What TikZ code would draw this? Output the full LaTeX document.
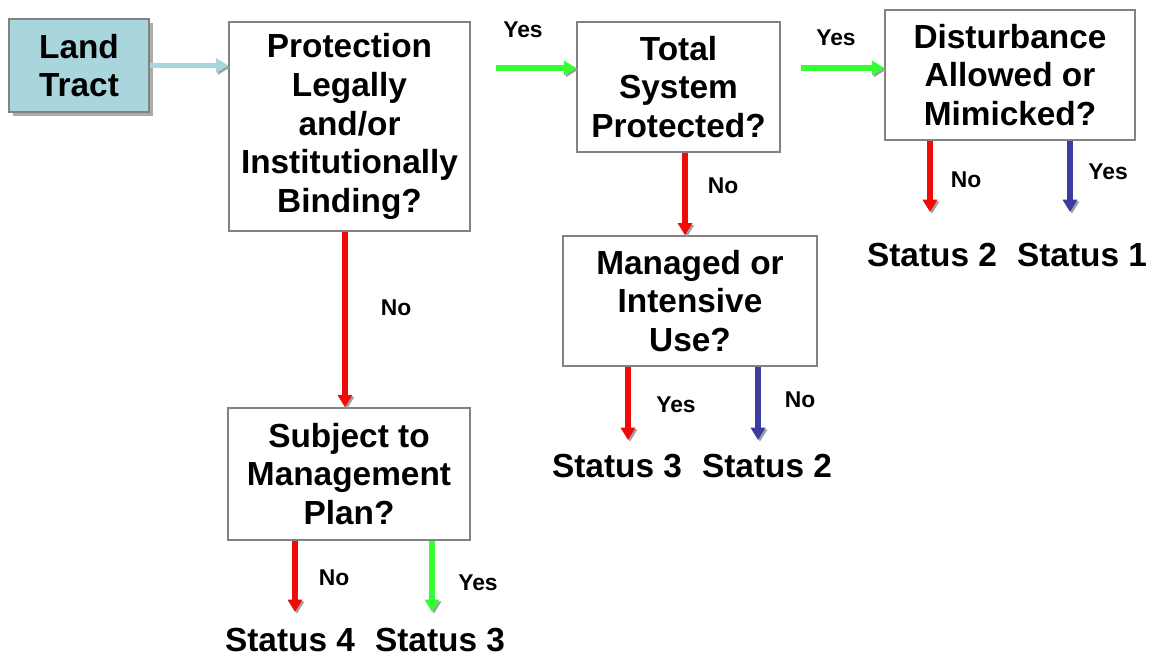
\documentclass[tikz,border=0pt]{standalone}
\usepackage{fontspec}
\setmainfont{Liberation Sans}
\usetikzlibrary{arrows.meta, shadows}

\definecolor{tract}{RGB}{168,214,220}
\definecolor{yesgreen}{RGB}{51,255,51}
\definecolor{nored}{RGB}{240,10,10}
\definecolor{navy}{RGB}{60,60,160}
\definecolor{boxline}{RGB}{130,130,130}

\tikzset{
  qbox/.style={draw=boxline, line width=0.8pt, fill=white, align=center, inner sep=0pt,
    font=\fontsize{19}{22}\selectfont\bfseries},
  lbl/.style={font=\fontsize{13}{15}\selectfont\bfseries},
  stat/.style={font=\fontsize{19}{22}\selectfont\bfseries},
  flow/.style={line width=2.9pt, -{Triangle[length=7pt,width=8pt]},
    preaction={draw=gray!75, transform canvas={shift={(1.1pt,-1pt)}}}},
}

\begin{document}
\begin{tikzpicture}[x=0.02cm, y=-0.02cm]
\useasboundingbox (0,0) rectangle (1149,657);

% boxes
\node[qbox, fill=tract, minimum width=2.8cm, minimum height=1.86cm,
  drop shadow={shadow xshift=2pt, shadow yshift=-2pt, fill=gray!70!black}]
  (land) at (79,65.5) {Land\\Tract};
\node[qbox, minimum width=4.82cm, minimum height=4.18cm] (prot) at (349.5,126.5)
  {Protection\\Legally\\and/or\\Institutionally\\Binding?};
\node[qbox, minimum width=4.06cm, minimum height=2.6cm] (total) at (678.5,87)
  {Total\\System\\Protected?};
\node[qbox, minimum width=5cm, minimum height=2.6cm] (dist) at (1010,75)
  {Disturbance\\Allowed or\\Mimicked?};
\node[qbox, minimum width=5.08cm, minimum height=2.6cm] (manag) at (690,301)
  {Managed or\\Intensive\\Use?};
\node[qbox, minimum width=4.84cm, minimum height=2.64cm] (subj) at (349,474)
  {Subject to\\Management\\Plan?};

% outcomes
\node[stat] (s2a) at (932,255) {Status 2};
\node[stat] (s1)  at (1082,255) {Status 1};
\node[stat] (s3a) at (617,466) {Status 3};
\node[stat] (s2b) at (767,466) {Status 2};
\node[stat] (s4)  at (290,640) {Status 4};
\node[stat] (s3b) at (440,640) {Status 3};

% arrow ends
\coordinate (row) at (0,68);
\coordinate (dno) at (930,212);
\coordinate (dyes) at (1070,212);
\coordinate (mno) at (628,440);
\coordinate (myes) at (758,440);
\coordinate (sno) at (295,612);
\coordinate (syes) at (432,612);

% connectors
\draw[flow, tract] (land.east) -- (land.east -| prot.west);
\draw[flow, yesgreen, shorten <=5\pgflinewidth] (prot.east |- row) -- (total.west |- row);
\draw[flow, yesgreen, shorten <=4\pgflinewidth] (total.east |- row) -- (dist.west |- row);
\draw[flow, nored] (dist.south -| dno) -- (dno);
\draw[flow, navy] (dist.south -| dyes) -- (dyes);
\draw[flow, nored] (685,0 |- total.south) -- (685,0 |- manag.north);
\draw[flow, nored] (manag.south -| mno) -- (mno);
\draw[flow, navy] (manag.south -| myes) -- (myes);
\draw[flow, nored] (345,0 |- prot.south) -- (345,0 |- subj.north);
\draw[flow, nored] (subj.south -| sno) -- (sno);
\draw[flow, yesgreen] (subj.south -| syes) -- (syes);

% labels
\node[lbl] (y1) at (523,30) {Yes};
\node[lbl] (y2) at (836,38) {Yes};
\node[lbl] (n1) at (966,180) {No};
\node[lbl] (y3) at (1108,172) {Yes};
\node[lbl] (n2) at (723,186) {No};
\node[lbl] (y4) at (676,405) {Yes};
\node[lbl] (n3) at (800,400) {No};
\node[lbl] (n4) at (396,308) {No};
\node[lbl] (n5) at (334,578) {No};
\node[lbl] (y5) at (478,583) {Yes};
\end{tikzpicture}
\end{document}
